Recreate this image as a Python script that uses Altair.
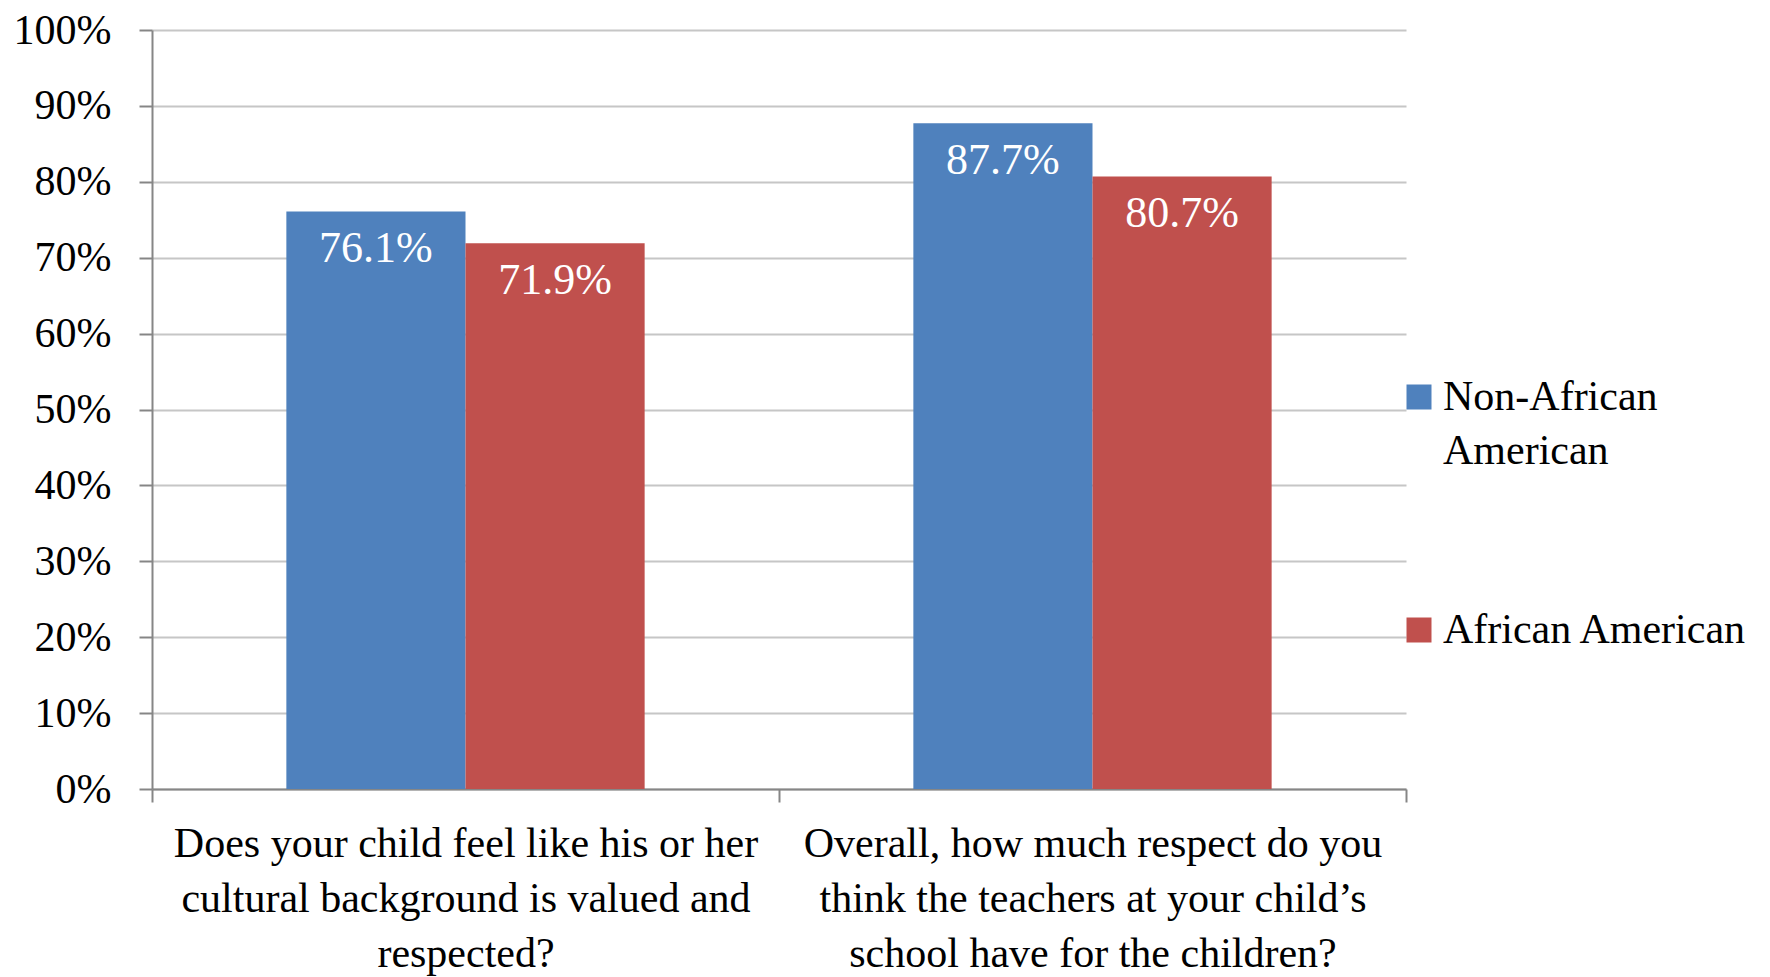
import json
import altair as alt
import pandas as pd

categories = [
    "Does your child feel like his or her cultural background is valued and respected?",
    "Overall, how much respect do you think the teachers at your child\u2019s school have for the children?",
]
category_lines = [
    ["Does your child feel like his or her", "cultural background is valued and", "respected?"],
    ["Overall, how much respect do you", "think the teachers at your child\u2019s", "school have for the children?"],
]
groups = ["Non-African American", "African American"]
group_lines = [["Non-African", "American"], ["African American"]]
colors = ["#4F81BD", "#C0504D"]
non_african = [0.761, 0.877]
african = [0.719, 0.807]
y_ticks = [0, 0.1, 0.2, 0.3, 0.4, 0.5, 0.6, 0.7, 0.8, 0.9, 1.0]

rows = []
for i, c in enumerate(categories):
    rows.append({"category": c, "group": groups[0], "value": non_african[i]})
    rows.append({"category": c, "group": groups[1], "value": african[i]})
df = pd.DataFrame(rows)


def build_expr(keys, lines):
    expr = "datum.label"
    for k, l in reversed(list(zip(keys, lines))):
        expr = f"datum.label == {json.dumps(k)} ? {json.dumps(l)} : ({expr})"
    return expr


FONT = "Liberation Serif"
FS = 42

x_enc = alt.X(
    "category:N",
    sort=categories,
    scale=alt.Scale(paddingInner=0, paddingOuter=0),
    axis=alt.Axis(
        title=None,
        labelAngle=0,
        labelExpr=build_expr(categories, category_lines),
        labelLineHeight=55,
        labelFont=FONT,
        labelFontSize=FS,
        labelColor="#000000",
        labelLimit=0,
        labelPadding=21,
        labelBaseline="top",
        tickBand="extent",
        tickSize=13,
        tickColor="#868686",
        tickWidth=2,
        domainColor="#868686",
        domainWidth=2,
        grid=False,
    ),
)
xoff_enc = alt.XOffset(
    "group:N", sort=groups, scale=alt.Scale(paddingInner=0, paddingOuter=0.75)
)
y_enc = alt.Y(
    "value:Q",
    scale=alt.Scale(domain=[0, 1], nice=False),
    axis=alt.Axis(
        title=None,
        values=y_ticks,
        format=".0%",
        labelFont=FONT,
        labelFontSize=FS,
        labelColor="#000000",
        labelPadding=28,
        tickSize=13,
        tickColor="#868686",
        tickWidth=2,
        domainColor="#868686",
        domainWidth=2,
        gridColor="#C6C6C6",
        gridWidth=2,
    ),
)

bars = alt.Chart(df).mark_bar().encode(
    x=x_enc,
    xOffset=xoff_enc,
    y=y_enc,
    color=alt.Color(
        "group:N",
        sort=groups,
        scale=alt.Scale(domain=groups, range=colors),
        legend=alt.Legend(
            title=None,
            orient="none",
            legendX=1246,
            legendY=346,
            padding=0,
            symbolType="square",
            symbolSize=625,
            symbolStrokeWidth=0,
            labelFont=FONT,
            labelFontSize=FS,
            labelColor="#000000",
            labelOffset=3,
            labelLimit=0,
            labelExpr=build_expr(groups, group_lines),
            rowPadding=137,
        ),
    ),
)

labels = alt.Chart(df).mark_text(
    baseline="middle", dy=38, color="white", font=FONT, fontSize=44
).encode(
    x=alt.X("category:N", sort=categories),
    xOffset=alt.XOffset("group:N", sort=groups),
    y=alt.Y("value:Q"),
    text=alt.Text("value:Q", format=".1%"),
)

chart = (
    alt.layer(bars, labels)
    .properties(
        width=1254,
        height=759,
        autosize=alt.AutoSizeParams(type="none"),
        padding={"left": 144, "top": 22, "right": 350, "bottom": 190},
    )
    .configure(style={"guide-label": {"lineHeight": 54}})
    .configure_view(stroke=None)
)

chart.save("out.html", embed_options={"renderer": "svg", "actions": False})
